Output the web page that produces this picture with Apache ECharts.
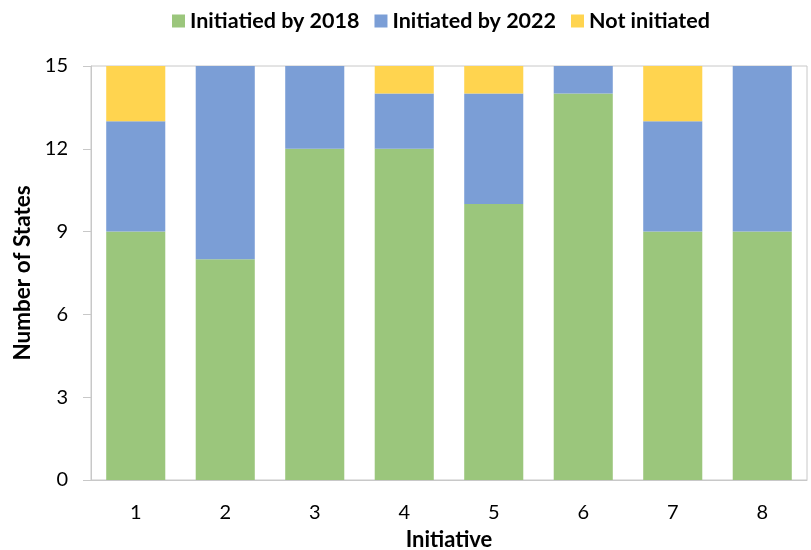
<!DOCTYPE html>
<html><head><meta charset="utf-8">
<script src="https://cdn.jsdelivr.net/npm/echarts@6/dist/echarts.min.js"></script>
<style>html,body{margin:0;padding:0;background:#fff}#c{width:811px;height:550px}</style>
</head><body><div id="c"></div>
<script>
const categories = ['1','2','3','4','5','6','7','8'];
const by2018 = [9, 8, 12, 12, 10, 14, 9, 9];
const by2022 = [4, 7, 3, 2, 4, 1, 4, 6];
const notInit = [2, 0, 0, 1, 1, 0, 2, 0];
const seriesNames = ['Initiatied by 2018', 'Initiated by 2022', 'Not initiated'];
const yTicks = {min: 0, max: 15, interval: 3};

const font = 'Lato, "Open Sans", sans-serif';
const chart = echarts.init(document.getElementById('c'));
chart.setOption({
  animation: false,
  textStyle: {fontFamily: font},
  legend: {
    top: 5, left: 167,
    itemWidth: 13, itemHeight: 13, itemGap: 15,
    icon: 'rect',
    textStyle: {fontFamily: font, fontSize: 21.5, fontWeight: 'bold', color: '#000'},
    data: seriesNames
  },
  grid: {left: 91, right: 4, top: 66, bottom: 70, show: true, borderColor: '#c8c8c8', borderWidth: 1,
         containLabel: false, outerBoundsMode: 'none'},
  xAxis: {
    type: 'category', data: categories,
    name: 'Initiative', nameLocation: 'middle', nameGap: 49,
    nameTextStyle: {fontFamily: font, fontSize: 22, fontWeight: 'bold', color: '#000'},
    axisLine: {lineStyle: {color: '#c8c8c8', width: 1}},
    axisTick: {show: false},
    axisLabel: {fontFamily: font, fontSize: 20, color: '#000', margin: 23}
  },
  yAxis: {
    type: 'value', min: yTicks.min, max: yTicks.max, interval: yTicks.interval,
    name: 'Number of States', nameLocation: 'middle', nameGap: 54, nameRotate: 90,
    nameTextStyle: {fontFamily: font, fontSize: 22.5, fontWeight: 'bold', color: '#000'},
    axisLine: {show: true, lineStyle: {color: '#c8c8c8', width: 1}},
    axisTick: {show: true, length: 8, lineStyle: {color: '#c8c8c8'}},
    splitLine: {show: false},
    axisLabel: {fontFamily: font, fontSize: 20, color: '#000', margin: 23}
  },
  series: [
    {name: seriesNames[0], type: 'bar', stack: 's', data: by2018, barWidth: '66%', itemStyle: {color: '#9bc67c'}},
    {name: seriesNames[1], type: 'bar', stack: 's', data: by2022, barWidth: '66%', itemStyle: {color: '#7b9ed6'}},
    {name: seriesNames[2], type: 'bar', stack: 's', data: notInit, barWidth: '66%', itemStyle: {color: '#ffd44f'}}
  ]
});
</script></body></html>
